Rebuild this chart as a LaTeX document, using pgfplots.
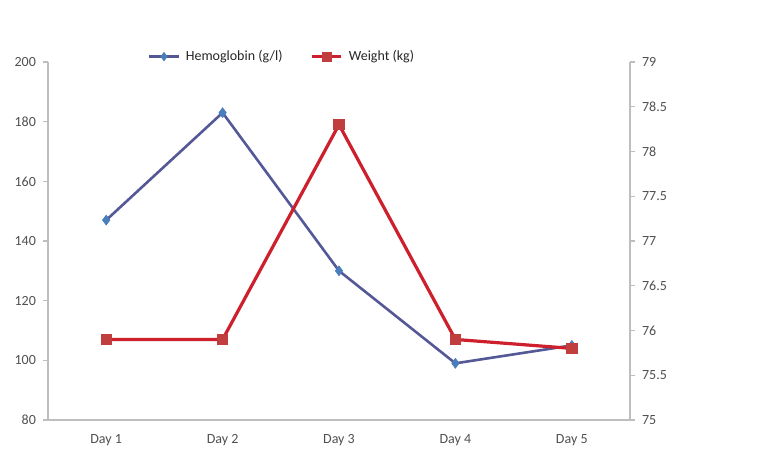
\documentclass[border=0pt]{standalone}
\usepackage{pgfplots}
\pgfplotsset{compat=1.18}
\usepackage{fontspec}
\setmainfont{Carlito}

\definecolor{hgline}{RGB}{84,88,150}
\definecolor{hgmark}{RGB}{74,126,187}
\definecolor{wtline}{RGB}{205,32,44}
\definecolor{wtmark}{RGB}{192,62,62}
\definecolor{axgray}{RGB}{190,190,190}
\definecolor{labgray}{RGB}{80,80,80}

\begin{document}
\begin{tikzpicture}[x=1pt,y=1pt]
\useasboundingbox (0,0) rectangle (379.5,232.5);
\pgfplotsset{
  every axis/.append style={
    scale only axis, width=291pt, height=179pt,
    at={(24pt,22.5pt)}, anchor=south west,
    xmin=-0.5, xmax=4.5,
    axis line style={axgray, line width=0.8pt},
    tick style={axgray, line width=0.6pt},
    tick align=outside, major tick length=2.5pt, minor tick length=2.5pt,
    tick label style={font=\fontsize{7}{8}\selectfont, text=labgray},
    /pgf/number format/assume math mode=true,
  }
}
\begin{axis}[
  ymin=80, ymax=200, ytick={80,100,...,200},
  axis y line*=left, axis x line*=bottom,
  xtick={0,1,2,3,4},
  xticklabels={Day 1,Day 2,Day 3,Day 4,Day 5},
  x tick style={draw=none},
  minor xtick={0.5,1.5,2.5,3.5},
  minor x tick style={axgray, line width=0.6pt},
  xticklabel style={yshift=-1pt},
]
\addplot[hgline, line width=1.3pt, mark=diamond*, mark size=2.4pt,
  mark options={fill=hgmark, draw=hgmark, line width=0.4pt}]
  coordinates {(0,147) (1,183) (2,130) (3,99) (4,105)};
\end{axis}
\begin{axis}[
  ymin=75, ymax=79, ytick={75,75.5,76,76.5,77,77.5,78,78.5,79},
  axis y line*=right, axis x line=none,
  legend columns=2,
  legend style={draw=none, fill=none, at={(0.404,1.015)}, anchor=center,
    font=\fontsize{7}{8}\selectfont, text=black!85,
    /tikz/every odd column/.append style={column sep=1pt},
    /tikz/every even column/.append style={column sep=12pt}},
  legend image post style={scale=0.85},
]
\addlegendimage{hgline, line width=1.3pt, mark=diamond*, mark size=2.4pt,
  mark options={fill=hgmark, draw=hgmark, line width=0.4pt}}
\addlegendentry{Hemoglobin (g/l)}
\addplot[wtline, line width=1.6pt, mark=square*, mark size=2.6pt,
  mark options={fill=wtmark, draw=wtmark, line width=0.4pt}]
  coordinates {(0,75.9) (1,75.9) (2,78.3) (3,75.9) (4,75.8)};
\addlegendentry{Weight (kg)}
\end{axis}
\end{tikzpicture}
\end{document}
